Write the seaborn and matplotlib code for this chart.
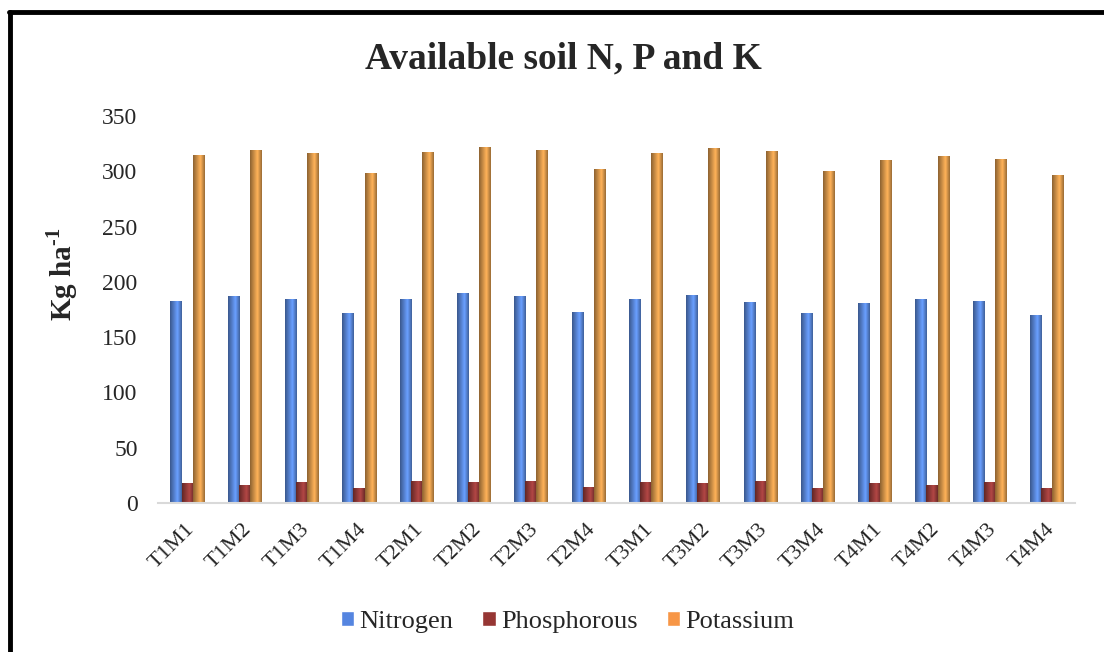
import numpy as np
import pandas as pd
import matplotlib
matplotlib.use("Agg")
import matplotlib.pyplot as plt
import matplotlib.colors as mcolors
import matplotlib.transforms as mtransforms
from matplotlib.lines import Line2D
import seaborn as sns

# Data
treatments = ['T1M1', 'T1M2', 'T1M3', 'T1M4', 'T2M1', 'T2M2', 'T2M3', 'T2M4',
              'T3M1', 'T3M2', 'T3M3', 'T3M4', 'T4M1', 'T4M2', 'T4M3', 'T4M4']
nitrogen = [182.4, 187.2, 184.2, 171.6, 184.2, 189.3, 186.6, 172.5,
            183.9, 187.8, 181.8, 171.6, 180.6, 183.9, 182.4, 170.0]
phosphorous = [17.2, 15.4, 18.7, 12.7, 19.0, 18.1, 19.6, 14.2,
               18.7, 17.8, 19.0, 13.3, 17.8, 15.6, 18.4, 12.7]
potassium = [314.7, 319.0, 316.3, 298.0, 317.4, 321.3, 318.4, 301.8,
             316.3, 320.4, 318.1, 300.0, 310.2, 313.2, 311.1, 296.4]
nutrients = ['Nitrogen', 'Phosphorous', 'Potassium']
colors = ['#5585E0', '#963634', '#F79646']
y_ticks = [0, 50, 100, 150, 200, 250, 300, 350]

df = pd.DataFrame({
    'Treatment': treatments * 3,
    'Nutrient': np.repeat(nutrients, len(treatments)),
    'Value': nitrogen + phosphorous + potassium,
})

sns.set_style("white")
plt.rcParams['font.family'] = ['Liberation Serif', 'DejaVu Serif']
plt.rcParams['mathtext.fontset'] = 'custom'
plt.rcParams['mathtext.rm'] = 'Liberation Serif:bold'
plt.rcParams['mathtext.bf'] = 'Liberation Serif:bold'

fig = plt.figure(figsize=(11.04, 6.52), dpi=100)
ax = fig.add_axes([0.1435, 0.2285, 0.8305, 0.5935])

sns.barplot(data=df, x='Treatment', y='Value', hue='Nutrient',
            palette=colors, width=0.58, saturation=1, ax=ax, errorbar=None)

# cylinder-like shading across each bar, like the Excel original
shade = np.concatenate([np.linspace(0.55, 1.0, 40), np.linspace(1.0, 0.6, 24)])
for patch in list(ax.patches):
    h = patch.get_height()
    if h <= 0:
        continue
    x0 = patch.get_x()
    w = patch.get_width()
    base = np.array(mcolors.to_rgb(patch.get_facecolor()))
    light = np.clip(base * 1.12 + 0.04, 0, 1)
    row = np.array([np.clip(light * s, 0, 1) for s in shade])
    ax.imshow(row[np.newaxis, :, :], extent=[x0, x0 + w, 0, h], aspect='auto',
              zorder=patch.get_zorder() + 0.1, interpolation='bilinear')

ax.set_xlim(-0.5, len(treatments) - 0.5)
ax.set_ylim(0, 350)
ax.set_yticks(y_ticks)
ax.set_yticklabels([str(t) for t in y_ticks], fontsize=17)
ax.set_xticks(range(len(treatments)))
ax.set_xticklabels(treatments, rotation=45, ha='right', rotation_mode='anchor', fontsize=16)
ax.tick_params(axis='y', length=0, pad=15)
ax.tick_params(axis='x', length=0, pad=12)
offset = mtransforms.ScaledTranslation(-2 / 100, 0, fig.dpi_scale_trans)
for lbl in ax.get_xticklabels():
    lbl.set_transform(lbl.get_transform() + offset)
ax.set_xlabel('')
ax.set_ylabel('')

for side in ['top', 'right', 'left']:
    ax.spines[side].set_visible(False)
ax.spines['bottom'].set_color('#D9D9D9')
ax.spines['bottom'].set_linewidth(1.5)

fig.text(62 / 1104, 1 - 274 / 652, r'Kg ha$^{\text{-1}}$', rotation=90,
         ha='center', va='center', fontsize=21, fontweight='bold')

fig.suptitle('Available soil N, P and K', fontsize=27, fontweight='bold', x=0.51, y=0.937)

handles, labels = ax.get_legend_handles_labels()
ax.get_legend().remove()
fig.legend(handles, labels, loc='center', bbox_to_anchor=(0.514, 0.046), ncol=3,
           frameon=False, fontsize=19, handlelength=0.5, handleheight=0.5,
           handletextpad=0.2, columnspacing=1.1)

# outer frame (left and top edges visible in the reference)
fig.add_artist(Line2D([0.0095, 0.0095], [0, 0.981], color='black', lw=3.5,
                      transform=fig.transFigure))
fig.add_artist(Line2D([0.0085, 1.0], [0.981, 0.981], color='black', lw=3.5,
                      transform=fig.transFigure))

fig.savefig('out.png', dpi=100)
